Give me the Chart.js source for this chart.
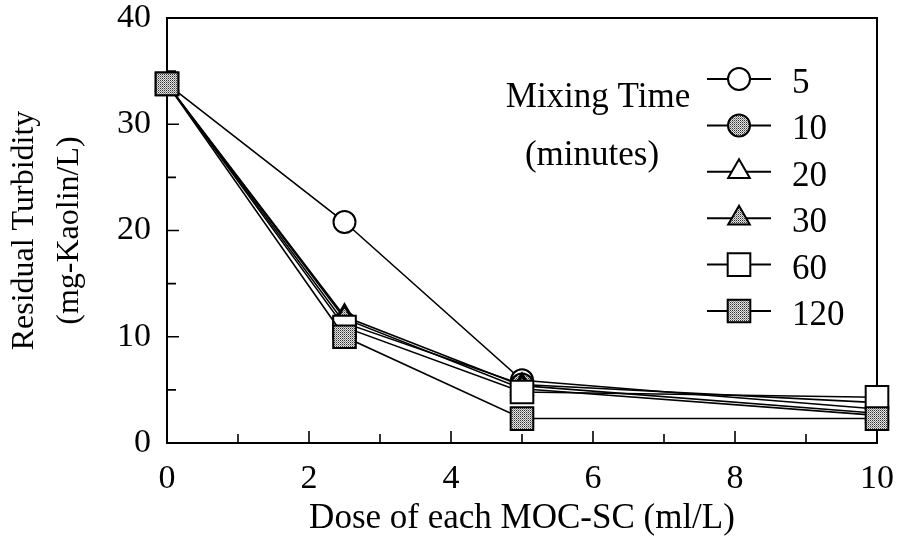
<!DOCTYPE html>
<html>
<head>
<meta charset="utf-8">
<title>Residual turbidity vs MOC-SC dose</title>
<script src="https://cdn.jsdelivr.net/npm/chart.js@4.4.1/dist/chart.umd.min.js"></script>
<style>
  html, body { margin: 0; padding: 0; background: #fff; }
</style>
</head>
<body>
<canvas id="turbidityChart" width="900" height="542"></canvas>
<script>
// Dose of each MOC-SC (ml/L)
const doses = [0, 2.5, 5, 10];
// Mixing time in minutes, one series each
const mixingTimes = ['5', '10', '20', '30', '60', '120'];
// Residual turbidity (mg-Kaolin/L)
const turbidity5 = [33.8, 20.8, 5.9, 3.2];
const turbidity10 = [33.8, 11.3, 5.5, 3.8];
const turbidity20 = [33.8, 11.9, 5.4, 2.8];
const turbidity30 = [33.8, 11.7, 5.1, 2.6];
const turbidity60 = [33.8, 10.9, 4.8, 4.3];
const turbidity120 = [33.8, 10.0, 2.3, 2.3];
// Axis tick labels
const xTicks = [0, 2, 4, 6, 8, 10];
const yTicks = [0, 10, 20, 30, 40];

const SERIF = '"Liberation Serif", "DejaVu Serif", serif';

// grey dotted fill for the solid markers
function stipple() {
  const c = document.createElement('canvas');
  c.width = 2;
  c.height = 2;
  const g = c.getContext('2d');
  g.fillStyle = '#e2e2e2';
  g.fillRect(0, 0, 2, 2);
  g.fillStyle = '#333';
  g.fillRect(0, 0, 1, 1);
  g.fillStyle = '#8a8a8a';
  g.fillRect(1, 1, 1, 1);
  return g.createPattern(c, 'repeat');
}
const grey = stipple();

const seriesValues = [turbidity5, turbidity10, turbidity20, turbidity30, turbidity60, turbidity120];
const markerStyles = ['circle', 'circle', 'triangle', 'triangle', 'rect', 'rect'];
const markerRadius = [11, 11, 12.5, 12.5, 16, 16];
const markerFill = ['#fff', grey, '#fff', grey, '#fff', grey];

const datasets = mixingTimes.map((t, i) => ({
  label: t,
  data: doses.map((d, j) => ({ x: d, y: seriesValues[i][j] })),
  borderColor: '#000',
  borderWidth: 1.6,
  pointStyle: markerStyles[i],
  pointRadius: markerRadius[i],
  pointBorderWidth: 2,
  pointBorderColor: '#000',
  pointBackgroundColor: markerFill[i],
  order: mixingTimes.length - i,
  clip: false,
}));

// box around the plot + inward tick marks
const frameTicks = {
  id: 'frameTicks',
  beforeDatasetsDraw(chart) {
    const { ctx, chartArea: a, scales: { x, y } } = chart;
    ctx.save();
    ctx.strokeStyle = '#000';
    ctx.lineWidth = 2;
    ctx.strokeRect(a.left, a.top, a.right - a.left, a.bottom - a.top);
    ctx.lineWidth = 1.6;
    ctx.beginPath();
    for (let v = 1; v < 10; v++) {
      const px = x.getPixelForValue(v);
      const len = xTicks.includes(v) ? 12 : 9;
      ctx.moveTo(px, a.bottom);
      ctx.lineTo(px, a.bottom - len);
    }
    for (let v = 5; v < 40; v += 5) {
      const py = y.getPixelForValue(v);
      const len = yTicks.includes(v) ? 12 : 9;
      ctx.moveTo(a.left, py);
      ctx.lineTo(a.left + len, py);
    }
    ctx.stroke();
    ctx.restore();
  },
};

// legend: heading on the left, line-marker-line samples with labels
const mixingLegend = {
  id: 'mixingLegend',
  afterDraw(chart) {
    const { ctx } = chart;
    ctx.save();
    ctx.fillStyle = '#000';
    ctx.font = '35px ' + SERIF;
    ctx.textAlign = 'center';
    ctx.textBaseline = 'alphabetic';
    ctx.fillText('Mixing Time', 598, 107);
    ctx.fillText('(minutes)', 592, 165);

    ctx.textAlign = 'left';
    chart.data.datasets.forEach((ds, i) => {
      const rowY = 79 + i * 46.4;
      ctx.strokeStyle = '#000';
      ctx.lineWidth = 2;
      ctx.beginPath();
      ctx.moveTo(707, rowY);
      ctx.lineTo(771, rowY);
      ctx.stroke();
      ctx.fillStyle = ds.pointBackgroundColor;
      Chart.helpers.drawPoint(ctx, {
        pointStyle: ds.pointStyle,
        radius: ds.pointRadius,
        borderWidth: 2,
        rotation: 0,
      }, 739, rowY);
      ctx.fillStyle = '#000';
      ctx.fillText(ds.label, 792, rowY + 14);
    });
    ctx.restore();
  },
};

new Chart(document.getElementById('turbidityChart'), {
  type: 'line',
  data: { datasets },
  options: {
    responsive: false,
    animation: false,
    layout: { padding: { top: 16, right: 23, left: 0, bottom: 0 } },
    plugins: {
      legend: { display: false },
      tooltip: { enabled: false },
    },
    scales: {
      x: {
        type: 'linear',
        min: 0,
        max: 10,
        afterBuildTicks: (s) => { s.ticks = xTicks.map((v) => ({ value: v })); },
        afterFit: (s) => {
          s.height = 99;
          s.paddingLeft = 0;
          s.paddingRight = 0;
        },
        grid: { display: false, drawTicks: false },
        border: { display: false },
        ticks: { color: '#000', font: { family: SERIF, size: 34 }, padding: 16 },
        title: {
          display: true,
          text: 'Dose of each MOC-SC (ml/L)',
          color: '#000',
          font: { family: SERIF, size: 35 },
          padding: { top: 4, bottom: 2 },
        },
      },
      y: {
        type: 'linear',
        min: 0,
        max: 40,
        afterBuildTicks: (s) => { s.ticks = yTicks.map((v) => ({ value: v })); },
        afterFit: (s) => {
          s.width = 167;
          s.paddingTop = 0;
          s.paddingBottom = 0;
        },
        grid: { display: false, drawTicks: false },
        border: { display: false },
        ticks: { color: '#000', font: { family: SERIF, size: 34 }, padding: 16 },
        title: {
          display: true,
          text: ['Residual Turbidity', '(mg-Kaolin/L)'],
          color: '#000',
          font: { family: SERIF, size: 32, lineHeight: 1.4 },
          padding: { top: 2, bottom: 0 },
        },
      },
    },
  },
  plugins: [frameTicks, mixingLegend],
});
</script>
</body>
</html>
